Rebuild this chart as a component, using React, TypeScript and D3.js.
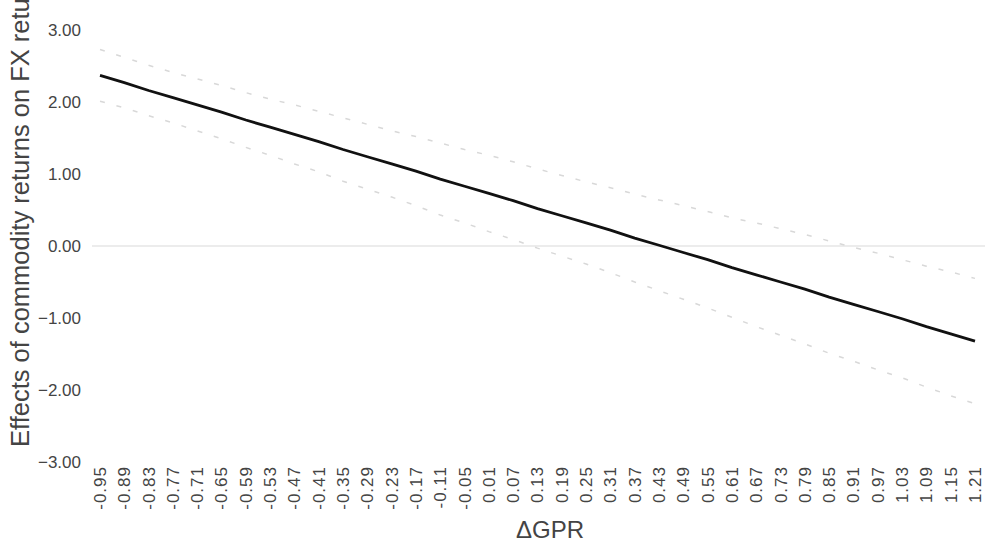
import React, { useRef, useEffect } from 'react';
import * as d3 from 'd3';

const categories = [
  '-0.95', '-0.89', '-0.83', '-0.77', '-0.71', '-0.65', '-0.59', '-0.53', '-0.47', '-0.41',
  '-0.35', '-0.29', '-0.23', '-0.17', '-0.11', '-0.05', '0.01', '0.07', '0.13', '0.19',
  '0.25', '0.31', '0.37', '0.43', '0.49', '0.55', '0.61', '0.67', '0.73', '0.79',
  '0.85', '0.91', '0.97', '1.03', '1.09', '1.15', '1.21'
];

const effect = [
  2.37, 2.27, 2.16, 2.06, 1.96, 1.86, 1.75, 1.65, 1.55, 1.45,
  1.34, 1.24, 1.14, 1.04, 0.93, 0.83, 0.73, 0.63, 0.52, 0.42,
  0.32, 0.22, 0.11, 0.01, -0.09, -0.19, -0.30, -0.40, -0.50, -0.60,
  -0.71, -0.81, -0.91, -1.01, -1.12, -1.22, -1.32
];

const upper = [
  2.73, 2.62, 2.51, 2.41, 2.32, 2.23, 2.13, 2.04, 1.96, 1.87,
  1.78, 1.69, 1.60, 1.52, 1.43, 1.34, 1.26, 1.17, 1.07, 0.98,
  0.89, 0.81, 0.72, 0.64, 0.56, 0.48, 0.39, 0.32, 0.24, 0.16,
  0.07, -0.02, -0.10, -0.19, -0.28, -0.36, -0.45
];

const lower = [
  2.01, 1.92, 1.81, 1.71, 1.60, 1.49, 1.37, 1.26, 1.14, 1.03,
  0.90, 0.79, 0.68, 0.56, 0.43, 0.32, 0.20, 0.09, -0.03, -0.14,
  -0.25, -0.37, -0.50, -0.62, -0.74, -0.86, -0.99, -1.12, -1.24, -1.36,
  -1.49, -1.60, -1.72, -1.83, -1.96, -2.08, -2.19
];

const yTicks = [3, 2, 1, 0, -1, -2, -3];

const W = 985;
const H = 543;
const FONT = 'Liberation Sans, Arial, Helvetica, sans-serif';

const App = () => {
  const svgRef = useRef(null);

  useEffect(() => {
    const svg = d3.select(svgRef.current);
    svg.selectAll('*').remove();

    const x = d3.scalePoint().domain(categories).range([100, 975]);
    const y = d3.scaleLinear().domain([-3, 3]).range([462, 30]);

    svg.append('rect').attr('width', W).attr('height', H).attr('fill', '#fff');

    // zero reference line
    svg.append('line')
      .attr('x1', 92).attr('x2', W)
      .attr('y1', y(0)).attr('y2', y(0))
      .attr('stroke', '#e6e6e6')
      .attr('stroke-width', 1.5);

    const line = d3.line()
      .x((d, i) => x(categories[i]))
      .y(d => y(d));

    [upper, lower].forEach(band => {
      svg.append('path')
        .datum(band)
        .attr('d', line)
        .attr('fill', 'none')
        .attr('stroke', '#d8d8d8')
        .attr('stroke-width', 1.5)
        .attr('stroke-dasharray', '5,12');
    });

    svg.append('path')
      .datum(effect)
      .attr('d', line)
      .attr('fill', 'none')
      .attr('stroke', '#111')
      .attr('stroke-width', 2.8);

    // y tick labels
    svg.selectAll('.ytick')
      .data(yTicks)
      .join('text')
      .attr('class', 'ytick')
      .attr('x', 81)
      .attr('y', d => y(d))
      .attr('dy', '0.35em')
      .attr('text-anchor', 'end')
      .attr('font-family', FONT)
      .attr('font-size', 17)
      .attr('fill', '#444')
      .text(d => d3.format('.2f')(d));

    // x tick labels
    svg.selectAll('.xtick')
      .data(categories)
      .join('text')
      .attr('class', 'xtick')
      .attr('transform', d => `translate(${x(d)},466) rotate(-90)`)
      .attr('dy', '0.35em')
      .attr('text-anchor', 'end')
      .attr('font-family', FONT)
      .attr('font-size', 17)
      .attr('letter-spacing', 1)
      .attr('fill', '#444')
      .text(d => d);

    // axis titles
    svg.append('text')
      .attr('x', 550)
      .attr('y', 538)
      .attr('text-anchor', 'middle')
      .attr('font-family', FONT)
      .attr('font-size', 24)
      .attr('fill', '#444')
      .text('ΔGPR');

    // y title runs past the top edge, as in the source
    svg.append('text')
      .attr('transform', 'translate(29,447) rotate(-90)')
      .attr('text-anchor', 'start')
      .attr('font-family', FONT)
      .attr('font-size', 25.5)
      .attr('fill', '#444')
      .text('Effects of commodity returns on FX returns');
  }, []);

  return (
    <svg
      ref={svgRef}
      width={W}
      height={H}
      style={{ position: 'absolute', left: 0, top: 0 }}
    />
  );
};

export default App;
